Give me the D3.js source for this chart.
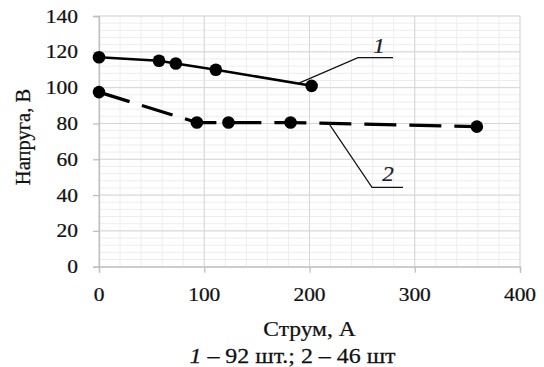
<!DOCTYPE html>
<html><head><meta charset="utf-8">
<script src="https://cdn.jsdelivr.net/npm/d3@7"></script>
<style>body{margin:0;background:#fff}svg{display:block}</style>
</head><body><svg id="c" width="544" height="367" font-family="'Liberation Serif', serif"></svg>
<script>
const series1X = [0, 57, 73, 111, 202];
const series1Y = [117, 115, 113.5, 110, 101];
const series2X = [0, 93, 123, 182, 359];
const series2Y = [97.5, 80.5, 80.5, 80.5, 78.2];
const xTicks = [0, 100, 200, 300, 400];
const yTicks = [0, 20, 40, 60, 80, 100, 120, 140];
const xTitle = "Струм, А";
const yTitle = "Напруга, В";
const seriesLabels = ["1", "2"];

const FONT = "Liberation Serif";
const svg = d3.select("#c");
const x = d3.scaleLinear().domain([0, 400]).range([99, 520]);
const y = d3.scaleLinear().domain([0, 140]).range([266.7, 16]);
const SX = 1.1;

const g = svg.append("g");
g.selectAll(".mx").data(d3.range(0, 401, 20)).join("line")
  .attr("x1", d => x(d)).attr("x2", d => x(d)).attr("y1", y(0)).attr("y2", y(140))
  .attr("stroke", "#ededed").attr("stroke-width", 1);
g.selectAll(".my").data(d3.range(0, 141, 4)).join("line")
  .attr("y1", d => y(d)).attr("y2", d => y(d)).attr("x1", x(0)).attr("x2", x(400))
  .attr("stroke", "#ededed").attr("stroke-width", 1);
g.selectAll(".Mx").data(xTicks).join("line")
  .attr("x1", d => x(d)).attr("x2", d => x(d)).attr("y1", y(0)).attr("y2", y(140))
  .attr("stroke", "#d6d6d6").attr("stroke-width", 1);
g.selectAll(".My").data(yTicks).join("line")
  .attr("y1", d => y(d)).attr("y2", d => y(d)).attr("x1", x(0)).attr("x2", x(400))
  .attr("stroke", "#d6d6d6").attr("stroke-width", 1);

const xa = svg.append("g").attr("transform", `translate(0,${y(0)})`)
  .call(d3.axisBottom(x).tickValues(xTicks).tickSize(6).tickFormat(""));
const ya = svg.append("g").attr("transform", `translate(${x(0)},0)`)
  .call(d3.axisLeft(y).tickValues(yTicks).tickSize(6).tickFormat(""));
[xa, ya].forEach(a => { a.selectAll("path,line").attr("stroke", "#bfbfbf").attr("stroke-width", 1.3); });

function txt(sel) { return sel.attr("font-family", FONT).attr("fill", "#111").attr("stroke", "#111").attr("stroke-width", 0.25); }

txt(svg.append("g").selectAll("text").data(xTicks).join("text"))
  .attr("transform", d => `translate(${x(d)},301) scale(${SX},1)`)
  .attr("text-anchor", "middle").attr("font-size", 19.5).text(d => d);
txt(svg.append("g").selectAll("text").data(yTicks).join("text"))
  .attr("transform", d => `translate(78,${y(d) + 6.5}) scale(${SX},1)`)
  .attr("text-anchor", "end").attr("font-size", 19.5).text(d => d);

txt(svg.append("text")).attr("transform", `translate(30,137) rotate(-90)`)
  .attr("text-anchor", "middle").attr("font-size", 20.5).text(yTitle);
txt(svg.append("text")).attr("transform", `translate(309.5,336) scale(1.12,1)`)
  .attr("text-anchor", "middle").attr("font-size", 21).text(xTitle);
const cap = txt(svg.append("text")).attr("transform", `translate(292.5,363) scale(1.14,1)`)
  .attr("text-anchor", "middle").attr("font-size", 21);
cap.append("tspan").attr("font-style", "italic").text(seriesLabels[0]);
cap.append("tspan").text(" – 92 шт.; ");
cap.append("tspan").text(seriesLabels[1]);
cap.append("tspan").text(" – 46 шт");

const d1 = series1X.map((v, i) => [v, series1Y[i]]);
const d2 = series2X.map((v, i) => [v, series2Y[i]]);
const line = d3.line().x(d => x(d[0])).y(d => y(d[1]));
svg.append("path").datum(d1).attr("d", line).attr("fill", "none")
  .attr("stroke", "#000").attr("stroke-width", 2.6);
svg.append("path").datum(d2).attr("d", line).attr("fill", "none")
  .attr("stroke", "#000").attr("stroke-width", 3.2).attr("stroke-dasharray", "32,13");
svg.append("g").selectAll("circle").data(d1.concat(d2)).join("circle")
  .attr("cx", d => x(d[0])).attr("cy", d => y(d[1])).attr("r", 6.3).attr("fill", "#000");

const ann = svg.append("g").attr("fill", "none").attr("stroke", "#111").attr("stroke-width", 1.2);
ann.append("path").attr("d", `M${x(190)},${y(102.5)} L358,57.7 L393,57.7`);
ann.append("path").attr("d", `M${x(218)},${y(80.3)} L372,187.3 L403,187.3`);
txt(svg.append("text")).attr("transform", `translate(379,53) scale(${SX},1)`)
  .attr("text-anchor", "middle").attr("font-size", 21).attr("font-style", "italic")
  .attr("fill", "#1b2036").text(seriesLabels[0]);
txt(svg.append("text")).attr("transform", `translate(388,181) scale(${SX},1)`)
  .attr("text-anchor", "middle").attr("font-size", 21).attr("font-style", "italic")
  .attr("fill", "#1b2036").text(seriesLabels[1]);
</script></body></html>
